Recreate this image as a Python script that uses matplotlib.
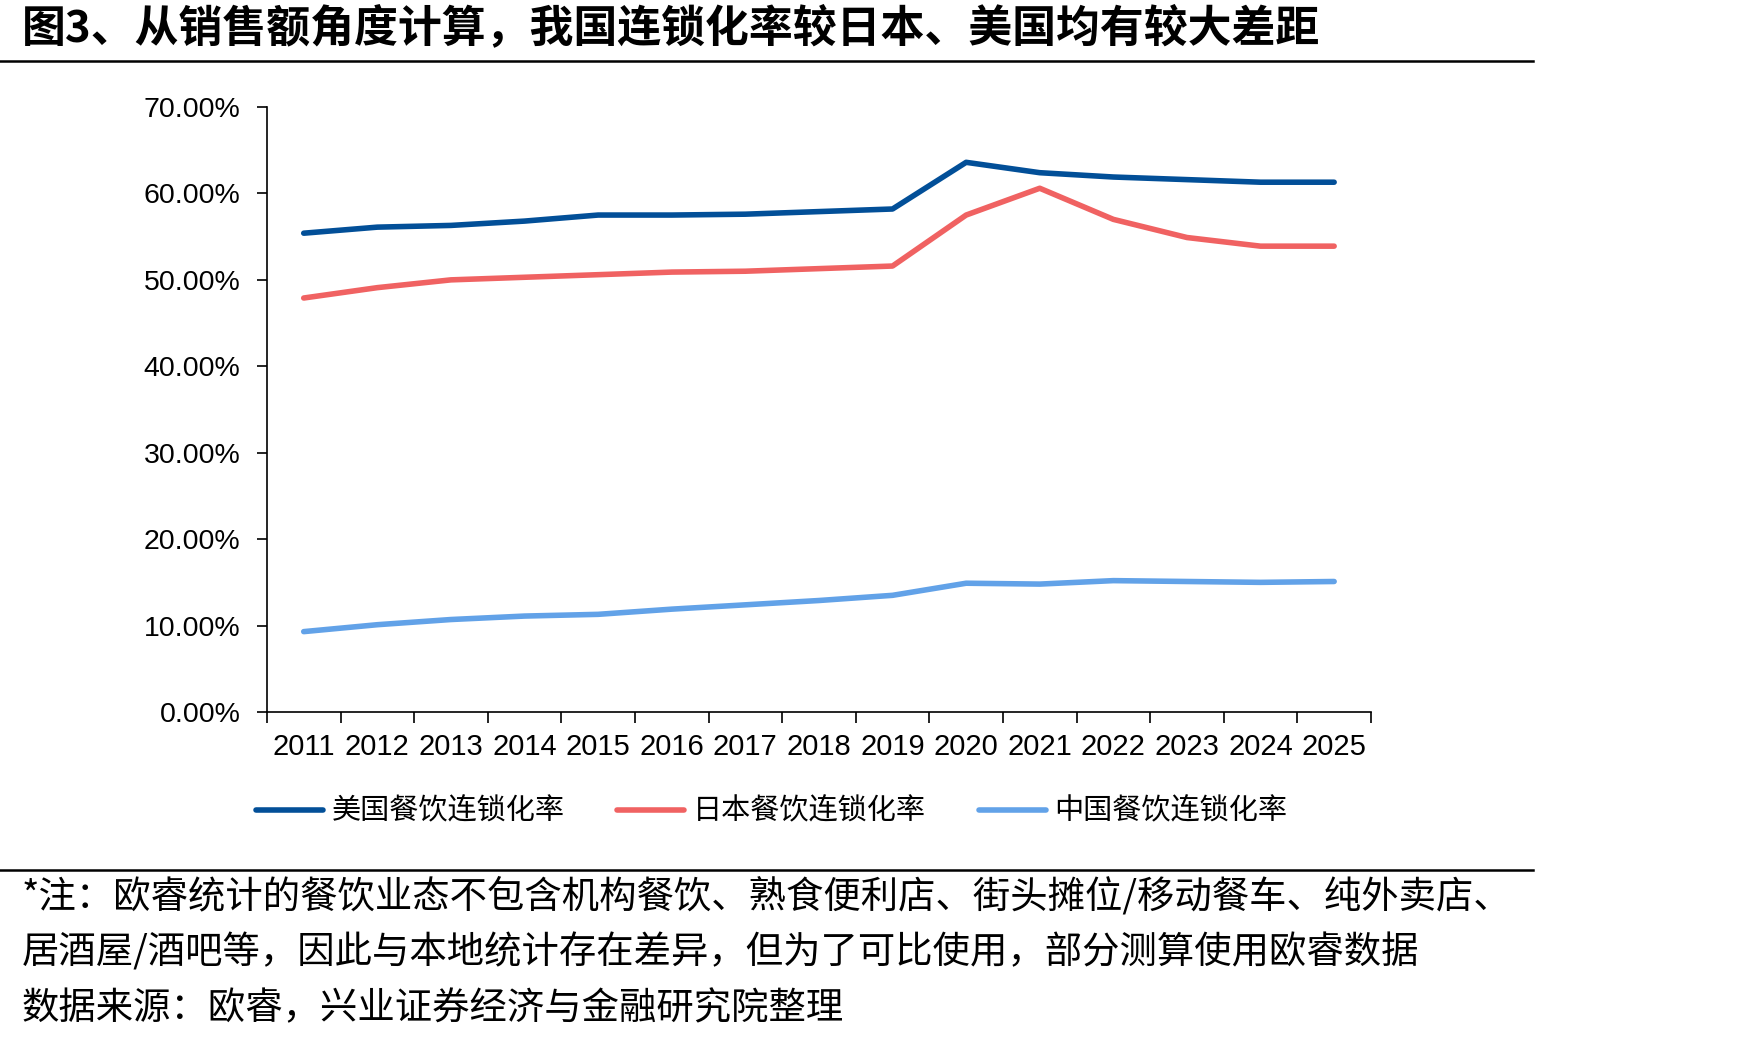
import matplotlib
matplotlib.use("Agg")
import matplotlib.pyplot as plt
from matplotlib.lines import Line2D
import numpy as np

plt.rcParams['font.family'] = ['Liberation Sans', 'Noto Sans CJK SC', 'DejaVu Sans']
CJK = ['Noto Sans CJK SC', 'DejaVu Sans']

# ---- data ----
years = ['2011', '2012', '2013', '2014', '2015', '2016', '2017', '2018',
         '2019', '2020', '2021', '2022', '2023', '2024', '2025']
us_rate = [55.4, 56.1, 56.3, 56.8, 57.5, 57.5, 57.6, 57.9, 58.2, 63.6, 62.4, 61.9, 61.6, 61.3, 61.3]
jp_rate = [47.9, 49.1, 50.0, 50.3, 50.6, 50.9, 51.0, 51.3, 51.6, 57.5, 60.6, 57.0, 54.9, 53.9, 53.9]
cn_rate = [9.3, 10.1, 10.7, 11.1, 11.3, 11.9, 12.4, 12.9, 13.5, 14.9, 14.8, 15.2, 15.1, 15.0, 15.1]
series_names = ['美国餐饮连锁化率', '日本餐饮连锁化率', '中国餐饮连锁化率']
colors = ['#024F98', '#F06262', '#62A2E8']

title = '图3、从销售额角度计算，我国连锁化率较日本、美国均有较大差距'
notes = ['*注：欧睿统计的餐饮业态不包含机构餐饮、熟食便利店、街头摊位/移动餐车、纯外卖店、',
         '居酒屋/酒吧等，因此与本地统计存在差异，但为了可比使用，部分测算使用欧睿数据',
         '数据来源：欧睿，兴业证券经济与金融研究院整理']

fig = plt.figure(figsize=(17.48, 10.42), dpi=100)
ax = fig.add_axes([0.1527, 0.3167, 0.6316, 0.5806])

x = np.arange(len(years))
for vals, name, c in zip([us_rate, jp_rate, cn_rate], series_names, colors):
    ax.plot(x, vals, color=c, linewidth=4, label=name, solid_capstyle='round')

ax.set_xlim(-0.5, len(years) - 0.5)
ax.set_ylim(0, 70)
ax.set_yticks(np.arange(0, 71, 10))
ax.set_yticklabels([f'{v:.2f}%' for v in np.arange(0, 71, 10)], fontsize=20.5)

# category boundaries as major ticks, year labels on minor ticks
ax.set_xticks(np.arange(-0.5, len(years), 1))
ax.set_xticklabels([])
ax.set_xticks(x, minor=True)
ax.set_xticklabels(years, minor=True, fontsize=21)
ax.tick_params(axis='x', which='major', length=8, width=1.2, direction='out')
ax.tick_params(axis='x', which='minor', length=0, pad=15)
ax.tick_params(axis='y', length=7, width=1.2, direction='out', pad=12)

for s in ['top', 'right']:
    ax.spines[s].set_visible(False)
ax.spines['left'].set_linewidth(1.2)
ax.spines['bottom'].set_linewidth(1.2)

# legend
handles = [Line2D([0], [0], color=c, linewidth=4, solid_capstyle='round') for c in colors]
fig.legend(handles, series_names, loc='center left', bbox_to_anchor=(0.1465, 0.221),
           ncol=3, frameon=False, prop={'family': CJK, 'size': 21},
           handlelength=2.3, handletextpad=0.3, columnspacing=1.8,
           borderpad=0, borderaxespad=0)

# title and rules
fig.text(0.0126, 0.973, title, fontsize=31.6, fontweight='bold', family=CJK,
         va='center', ha='left')
fig.add_artist(Line2D([0, 0.877], [0.9415, 0.9415], color='black', linewidth=1.8,
                      transform=fig.transFigure))
fig.add_artist(Line2D([0, 0.877], [0.1654, 0.1654], color='black', linewidth=1.8,
                      transform=fig.transFigure))

# footnotes
for yy, txt in zip([0.139, 0.0854, 0.0317], notes):
    fig.text(0.0126, yy, txt, fontsize=26.9, family=CJK, va='center', ha='left')

fig.savefig('out.png', dpi=100)
